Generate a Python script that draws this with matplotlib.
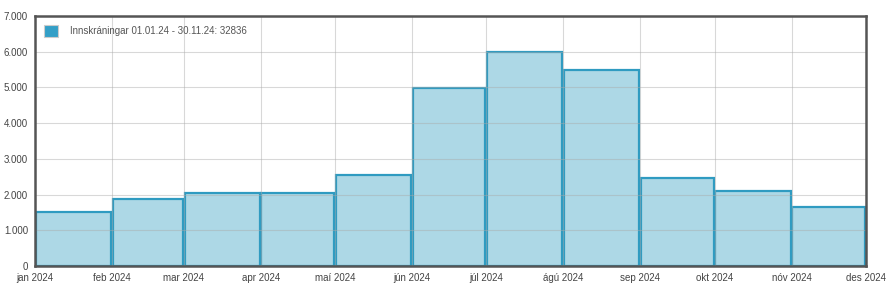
import matplotlib
matplotlib.use("Agg")
import matplotlib.pyplot as plt
import matplotlib.dates as mdates
from matplotlib.ticker import FuncFormatter
import datetime as dt

plt.rcParams["font.family"] = ["Liberation Sans", "DejaVu Sans"]

months = ["jan 2024", "feb 2024", "mar 2024", "apr 2024", "maí 2024", "jún 2024",
          "júl 2024", "ágú 2024", "sep 2024", "okt 2024", "nóv 2024", "des 2024"]
month_starts = [dt.date(2024, m, 1) for m in range(1, 13)]
logins = [1510, 1880, 2040, 2050, 2550, 4990, 5990, 5490, 2470, 2100, 1650]
label = "Innskráningar 01.01.24 - 30.11.24: 32836"

fig = plt.figure(figsize=(8.9, 2.93), dpi=100)
ax = fig.add_axes([35 / 890, 27 / 293, 831 / 890, 250 / 293])

starts = mdates.date2num(month_starts)
widths = [starts[i + 1] - starts[i] for i in range(11)]
ax.bar([s + 0.3 for s in starts[:11]], logins, width=[w - 0.7 for w in widths],
       align="edge", color="#add8e6", edgecolor="#2f9bc1", linewidth=1.6, zorder=2)

ax.set_xlim(starts[0], starts[-1])
ax.set_ylim(0, 7000)
ax.set_xticks(starts)
ax.set_xticklabels(months)
ax.set_yticks(range(0, 7001, 1000))
ax.yaxis.set_major_formatter(FuncFormatter(lambda v, p: f"{int(v):,}".replace(",", ".")))
ax.tick_params(length=0, labelsize=7, labelcolor="#444444", pad=5)
ax.grid(True, color="#aaaaaa", alpha=0.45, linewidth=0.8, zorder=3)
ax.set_axisbelow(False)
for s in ax.spines.values():
    s.set_color("#555555")
    s.set_linewidth(1.8)
    s.set_zorder(4)

handle = plt.Rectangle((0, 0), 1, 1, facecolor="#339fc7", edgecolor="#cccccc", linewidth=0.8)
leg = ax.legend([handle], [label], loc="upper left", frameon=False, fontsize=7,
                handlelength=1.5, handleheight=1.5, handletextpad=1.2, borderaxespad=0.5)
for t in leg.get_texts():
    t.set_color("#555555")

plt.savefig("out.png")
